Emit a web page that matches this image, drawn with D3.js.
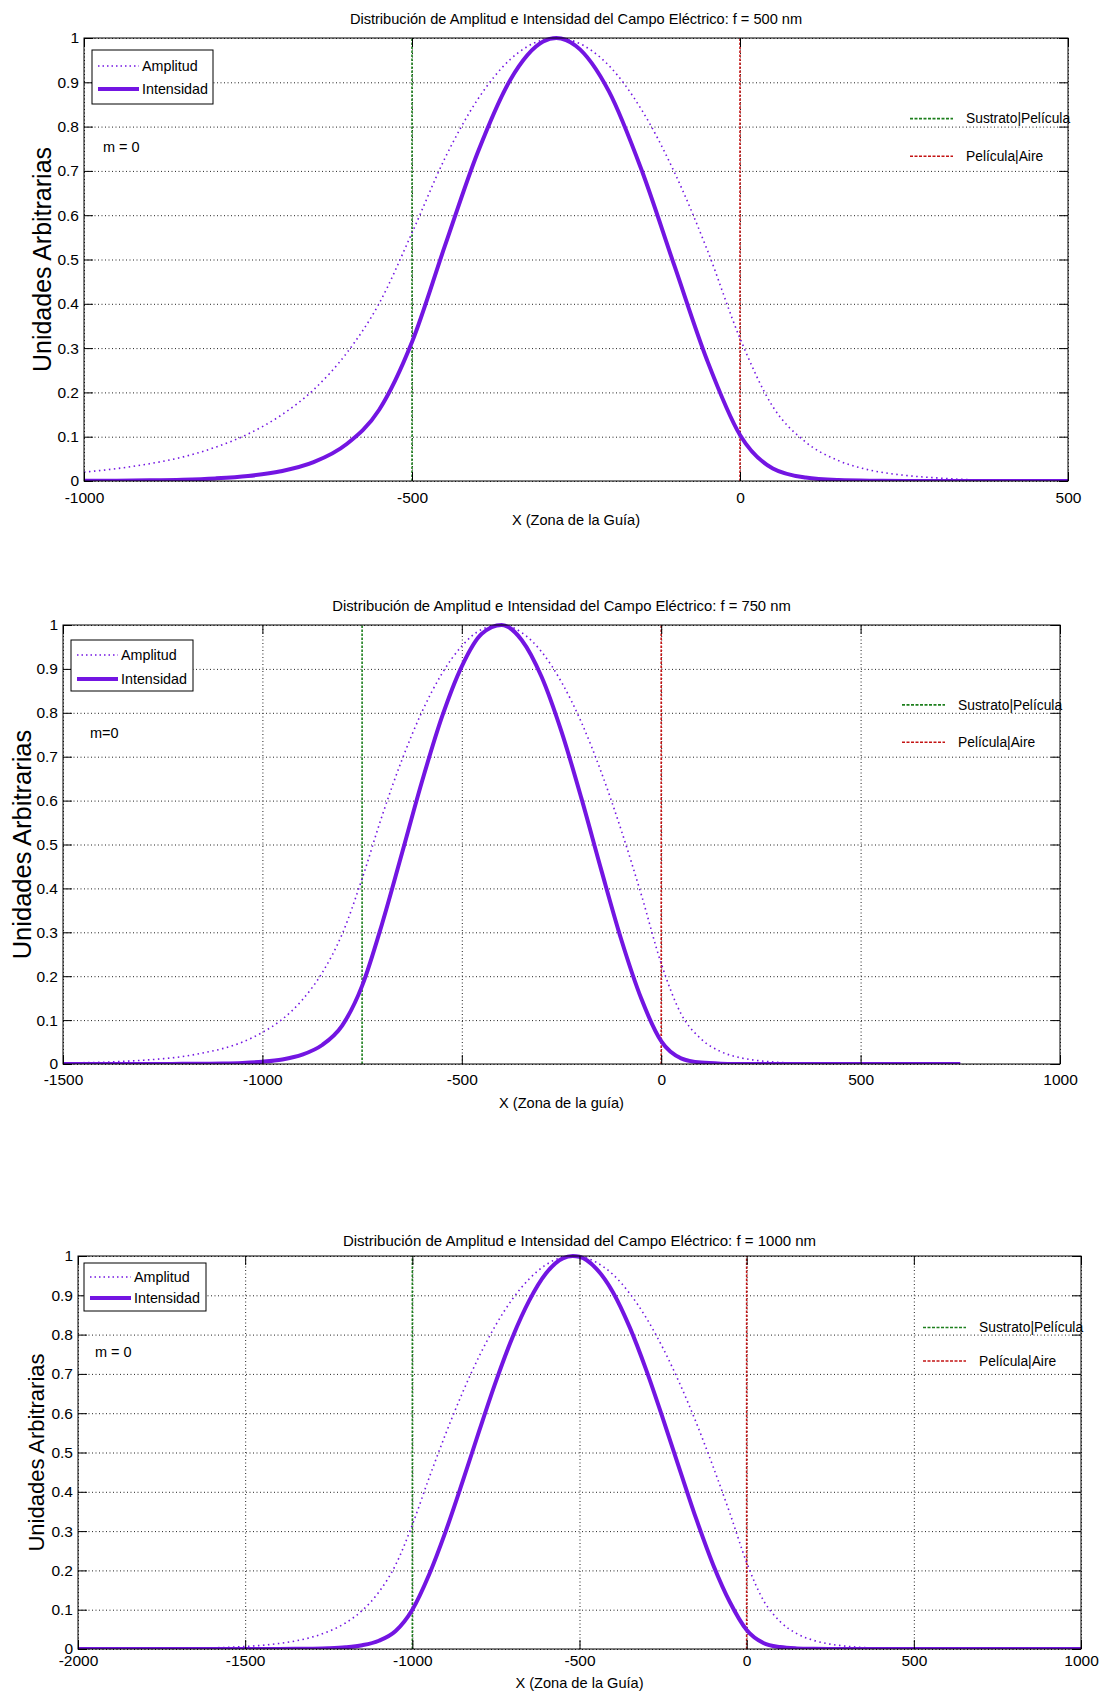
<!DOCTYPE html>
<html>
<head>
<meta charset="utf-8">
<script src="https://cdn.jsdelivr.net/npm/d3@7"></script>
<style>
  body { margin: 0; background: #fff; }
  svg text { font-family: "Liberation Sans", Arial, sans-serif; fill: #000; }
</style>
</head>
<body>
<div id="chart"></div>
<script>
// ---- data ----
const titles = [
  "Distribución de Amplitud e Intensidad del Campo Eléctrico: f = 500 nm",
  "Distribución de Amplitud e Intensidad del Campo Eléctrico: f = 750 nm",
  "Distribución de Amplitud e Intensidad del Campo Eléctrico: f = 1000 nm"
];
const xLabels = ["X (Zona de la Guía)", "X (Zona de la guía)", "X (Zona de la Guía)"];
const yLabel = "Unidades Arbitrarias";
const modeLabels = ["m = 0", "m=0", "m = 0"];
const seriesNames = ["Amplitud", "Intensidad"];
const boundaryNames = ["Sustrato|Película", "Película|Aire"];

const yTicks = [0, 0.1, 0.2, 0.3, 0.4, 0.5, 0.6, 0.7, 0.8, 0.9, 1];
const yTickLabels = ["0", "0.1", "0.2", "0.3", "0.4", "0.5", "0.6", "0.7", "0.8", "0.9", "1"];

const xTicks500 = [-1000, -500, 0, 500];
const xTicks750 = [-1500, -1000, -500, 0, 500, 1000];
const xTicks1000 = [-2000, -1500, -1000, -500, 0, 500, 1000];

// film boundaries (substrate|film, film|air)
const bounds500 = [-500, 0];
const bounds750 = [-750, 0];
const bounds1000 = [-1000, 0];

// f = 500 nm
const xs500 = [-1000, -950, -900, -850, -800, -750, -700, -650, -600, -550, -500, -450, -400, -350, -300, -280,
  -250, -200, -150, -100, -50, 0, 50, 100, 150, 200, 250, 300, 350, 400, 450, 500];
const amp500 = [0.020, 0.028, 0.039, 0.054, 0.076, 0.106, 0.148, 0.206, 0.288, 0.401, 0.560, 0.728, 0.861, 0.952, 0.996, 1.000,
  0.991, 0.938, 0.838, 0.697, 0.522, 0.322, 0.168, 0.088, 0.046, 0.024, 0.013, 0.007, 0.003, 0.002, 0.001, 0.000];
const int500 = [0.0004, 0.0008, 0.0015, 0.0029, 0.0058, 0.0112, 0.0219, 0.0424, 0.0829, 0.1608, 0.3136, 0.530, 0.741, 0.906, 0.992, 1.000,
  0.982, 0.880, 0.702, 0.486, 0.272, 0.104, 0.0282, 0.0077, 0.0021, 0.0006, 0.0002, 0, 0, 0, 0, 0];

// f = 750 nm (curves stop at 750)
const xs750 = [-1500, -1450, -1400, -1350, -1300, -1250, -1200, -1150, -1100, -1050, -1000, -950, -900, -850, -800, -750,
  -700, -650, -600, -550, -500, -450, -400, -350, -300, -250, -200, -150, -100, -50, 0,
  50, 100, 150, 200, 250, 300, 350, 400, 450, 500, 550, 600, 650, 700, 750];
const amp750 = [0.002, 0.003, 0.004, 0.006, 0.0085, 0.012, 0.017, 0.025, 0.035, 0.050, 0.072, 0.102, 0.146, 0.208, 0.296, 0.422,
  0.565, 0.693, 0.802, 0.889, 0.952, 0.990, 1.000, 0.983, 0.939, 0.870, 0.778, 0.664, 0.532, 0.386, 0.229,
  0.114, 0.057, 0.028, 0.014, 0.007, 0.0035, 0.0017, 0.0009, 0.0004, 0.0002, 0.0001, 0, 0, 0, 0];
const int750 = [0, 0, 0, 0, 0.0001, 0.0001, 0.0003, 0.0006, 0.0012, 0.0025, 0.0052, 0.0104, 0.0213, 0.0433, 0.0876, 0.178,
  0.319, 0.480, 0.643, 0.790, 0.906, 0.980, 1.000, 0.966, 0.882, 0.757, 0.605, 0.441, 0.283, 0.149, 0.052,
  0.013, 0.0032, 0.0008, 0.0002, 0, 0, 0, 0, 0, 0, 0, 0, 0, 0, 0];

// f = 1000 nm
const xs1000 = [-2000, -1950, -1900, -1850, -1800, -1750, -1700, -1650, -1600, -1550, -1500, -1450, -1400, -1350, -1300,
  -1250, -1200, -1150, -1100, -1050, -1000, -950, -900, -850, -800, -750, -700, -650, -600, -550, -520,
  -500, -450, -400, -350, -300, -250, -200, -150, -100, -50, 0,
  50, 100, 150, 200, 250, 300, 350, 400, 450, 500, 550, 600, 650, 700, 750, 800, 850, 900, 950, 1000];
const amp1000 = [0.0001, 0.0002, 0.0003, 0.0004, 0.0006, 0.0009, 0.0013, 0.0020, 0.0029, 0.0043, 0.0064, 0.0094, 0.0139, 0.0205, 0.0303,
  0.0448, 0.0662, 0.0979, 0.145, 0.214, 0.316, 0.435, 0.548, 0.652, 0.745, 0.825, 0.891, 0.942, 0.978, 0.997, 1.000,
  0.999, 0.984, 0.953, 0.905, 0.842, 0.765, 0.675, 0.574, 0.463, 0.345, 0.220,
  0.124, 0.070, 0.039, 0.022, 0.0124, 0.0070, 0.0039, 0.0022, 0.0012, 0.0007, 0.0004, 0.0002, 0.0001, 0.0001, 0, 0, 0, 0, 0, 0];
const int1000 = [0, 0, 0, 0, 0, 0, 0, 0, 0, 0, 0, 0.0001, 0.0002, 0.0004, 0.0009,
  0.0020, 0.0044, 0.0096, 0.0210, 0.0458, 0.0999, 0.189, 0.300, 0.425, 0.555, 0.681, 0.794, 0.887, 0.956, 0.994, 1.000,
  0.998, 0.968, 0.908, 0.819, 0.709, 0.585, 0.456, 0.329, 0.214, 0.119, 0.0484,
  0.0154, 0.0049, 0.0015, 0.0005, 0.0002, 0, 0, 0, 0, 0, 0, 0, 0, 0, 0, 0, 0, 0, 0, 0];

// ---- drawing ----
const W = 1106, H = 1695;
const purple = "#7315e2";
const green = "#1d7f1d";
const red = "#c41414";

const svg = d3.select("#chart").append("svg")
  .attr("width", W)
  .attr("height", H)
  .attr("viewBox", `0 0 ${W} ${H}`);

svg.append("rect").attr("width", W).attr("height", H).attr("fill", "#fff");

const panels = [
  { key: "p500", title: titles[0], xLabel: xLabels[0], mLabel: modeLabels[0],
    xs: xs500, amp: amp500, inten: int500, domain: [-1000, 500], ticks: xTicks500, bounds: bounds500,
    left: 84, right: 1068, top: 38, bottom: 481, titleY: 24, titleSize: 14.6,
    tickPad: 11, xLabelY: 525, yLabelX: 42, yLabelSize: 25,
    legend: { x: 92, y: 50, w: 121, h: 54, r1: 16, r2: 39 }, mX: 103 },
  { key: "p750", title: titles[1], xLabel: xLabels[1], mLabel: modeLabels[1],
    xs: xs750, amp: amp750, inten: int750, domain: [-1500, 1000], ticks: xTicks750, bounds: bounds750,
    left: 63, right: 1060, top: 625, bottom: 1064, titleY: 611, titleSize: 14.8,
    tickPad: 10, xLabelY: 1108, yLabelX: 22, yLabelSize: 25.5,
    legend: { x: 71, y: 640, w: 122, h: 51, r1: 15, r2: 39 }, mX: 90 },
  { key: "p1000", title: titles[2], xLabel: xLabels[2], mLabel: modeLabels[2],
    xs: xs1000, amp: amp1000, inten: int1000, domain: [-2000, 1000], ticks: xTicks1000, bounds: bounds1000,
    left: 78, right: 1081, top: 1256, bottom: 1649, titleY: 1246, titleSize: 15.0,
    tickPad: 6, xLabelY: 1688, yLabelX: 36, yLabelSize: 22,
    legend: { x: 84, y: 1263, w: 122, h: 48, r1: 14, r2: 35 }, mX: 95 }
];

function drawPanel(p) {
  const g = svg.append("g").attr("id", p.key);
  const x = d3.scaleLinear().domain(p.domain).range([p.left, p.right]);
  const y = d3.scaleLinear().domain([0, 1]).range([p.bottom, p.top]);
  const h = p.bottom - p.top, w = p.right - p.left;

  // dotted grid
  g.append("g")
    .attr("transform", `translate(0,${p.bottom})`)
    .call(d3.axisBottom(x).tickValues(p.ticks).tickSize(-h).tickFormat(""))
    .call(s => s.select(".domain").remove())
    .selectAll("line")
    .attr("stroke", "#222").attr("stroke-width", 1).attr("stroke-dasharray", "1,2.5");
  g.append("g")
    .attr("transform", `translate(${p.left},0)`)
    .call(d3.axisLeft(y).tickValues(yTicks).tickSize(-w).tickFormat(""))
    .call(s => s.select(".domain").remove())
    .selectAll("line")
    .attr("stroke", "#222").attr("stroke-width", 1).attr("stroke-dasharray", "1,2.5");

  // boundary lines
  [green, red].forEach((c, i) => {
    g.append("line")
      .attr("x1", x(p.bounds[i])).attr("x2", x(p.bounds[i]))
      .attr("y1", y(0)).attr("y2", y(1))
      .attr("stroke", c).attr("stroke-width", 1.6).attr("stroke-dasharray", "2.5,1.5");
  });

  // curves
  const clipId = `clip-${p.key}`;
  g.append("clipPath").attr("id", clipId)
    .append("rect").attr("x", p.left).attr("y", p.top - 3).attr("width", w).attr("height", h + 3);

  const pts = (vals) => p.xs.map((xv, i) => [xv, vals[i]]);
  const line = d3.line().x(d => x(d[0])).y(d => y(d[1])).curve(d3.curveMonotoneX);

  const curves = g.append("g").attr("clip-path", `url(#${clipId})`);
  curves.append("path")
    .attr("d", line(pts(p.amp)))
    .attr("fill", "none").attr("stroke", purple)
    .attr("stroke-width", 1.6).attr("stroke-dasharray", "1.5,3.5");
  curves.append("path")
    .attr("d", line(pts(p.inten)))
    .attr("fill", "none").attr("stroke", purple)
    .attr("stroke-width", 4).attr("stroke-linejoin", "round");

  // frame
  g.append("rect")
    .attr("x", p.left).attr("y", p.top).attr("width", w).attr("height", h)
    .attr("fill", "none").attr("stroke", "#000").attr("stroke-width", 1);

  // axes: inward ticks on all four sides
  const bottomAx = g.append("g")
    .attr("transform", `translate(0,${p.bottom})`)
    .call(d3.axisBottom(x).tickValues(p.ticks).tickSize(-9).tickPadding(p.tickPad).tickFormat(d => String(d)));
  const leftAx = g.append("g")
    .attr("transform", `translate(${p.left},0)`)
    .call(d3.axisLeft(y).tickValues(yTicks).tickSize(-9).tickPadding(5)
      .tickFormat((d, i) => yTickLabels[i]));
  const topAx = g.append("g")
    .attr("transform", `translate(0,${p.top})`)
    .call(d3.axisTop(x).tickValues(p.ticks).tickSize(-9).tickFormat(""));
  const rightAx = g.append("g")
    .attr("transform", `translate(${p.right},0)`)
    .call(d3.axisRight(y).tickValues(yTicks).tickSize(-9).tickFormat(""));

  [bottomAx, leftAx, topAx, rightAx].forEach(a => {
    a.select(".domain").remove();
    a.selectAll("line").attr("stroke", "#000");
    a.selectAll("text")
      .attr("font-family", null)
      .attr("font-size", 15.5)
      .attr("fill", "#000");
  });

  // title and axis labels
  g.append("text")
    .attr("x", (p.left + p.right) / 2).attr("y", p.titleY)
    .attr("text-anchor", "middle").attr("font-size", p.titleSize)
    .text(p.title);
  g.append("text")
    .attr("x", (p.left + p.right) / 2).attr("y", p.xLabelY)
    .attr("text-anchor", "middle").attr("font-size", 14.6)
    .text(p.xLabel);
  g.append("text")
    .attr("transform", `translate(${p.yLabelX},${(p.top + p.bottom) / 2}) rotate(-90)`)
    .attr("text-anchor", "middle").attr("dominant-baseline", "central")
    .attr("font-size", p.yLabelSize)
    .text(yLabel);

  // series legend (boxed, top left)
  const L = p.legend;
  const lg = g.append("g").attr("transform", `translate(${L.x},${L.y})`);
  lg.append("rect").attr("width", L.w).attr("height", L.h)
    .attr("fill", "#fff").attr("stroke", "#000").attr("stroke-width", 1);
  lg.append("line").attr("x1", 6).attr("x2", 47).attr("y1", L.r1).attr("y2", L.r1)
    .attr("stroke", purple).attr("stroke-width", 1.6).attr("stroke-dasharray", "1.5,3");
  lg.append("line").attr("x1", 6).attr("x2", 47).attr("y1", L.r2).attr("y2", L.r2)
    .attr("stroke", purple).attr("stroke-width", 4);
  [L.r1, L.r2].forEach((ry, i) => {
    lg.append("text").attr("x", 50).attr("y", ry).attr("dy", "0.35em")
      .attr("font-size", 14.3).text(seriesNames[i]);
  });

  // mode label
  g.append("text")
    .attr("x", p.mX).attr("y", y(0.755)).attr("dy", "0.35em")
    .attr("font-size", 14.5).text(p.mLabel);

  // boundary legend (no box, right side)
  [[green, 0.818], [red, 0.733]].forEach(([c, v], i) => {
    g.append("line")
      .attr("x1", p.right - 158).attr("x2", p.right - 115)
      .attr("y1", y(v)).attr("y2", y(v))
      .attr("stroke", c).attr("stroke-width", 1.6).attr("stroke-dasharray", "3,1.5");
    g.append("text")
      .attr("x", p.right - 102).attr("y", y(v)).attr("dy", "0.35em")
      .attr("font-size", 13.8).text(boundaryNames[i]);
  });
}

panels.forEach(drawPanel);
</script>
</body>
</html>
